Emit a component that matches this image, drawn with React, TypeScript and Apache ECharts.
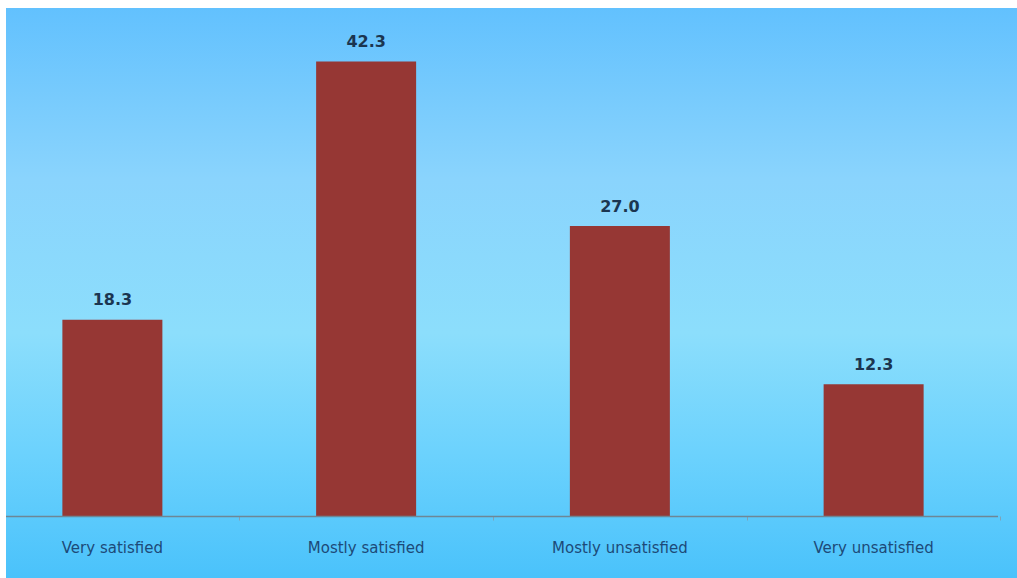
import React, { useEffect, useRef } from "react";
import * as echarts from "echarts";

// Satisfaction survey results (percent of respondents)
const categories: string[] = [
  "Very satisfied",
  "Mostly satisfied",
  "Mostly unsatisfied",
  "Very unsatisfied",
];
const shares: number[] = [18.3, 42.3, 27.0, 12.3];

// Canvas extends 22px to the left of the painted panel so the first
// category band can start slightly outside the visible area.
const OFFSET = 22;
const W = 1033;
const H = 570;
const PANEL_W = 1011;
const AXIS_Y = 508.5;

export default function App() {
  const ref = useRef<HTMLDivElement>(null);

  useEffect(() => {
    if (!ref.current) return;
    const chart = echarts.init(ref.current, undefined, { renderer: "svg" });
    chart.setOption({
      animation: false,
      graphic: [
        {
          type: "rect",
          z: -10,
          silent: true,
          shape: { x: OFFSET, y: 0, width: PANEL_W, height: H },
          style: {
            fill: new echarts.graphic.LinearGradient(0, 0, 0, 1, [
              { offset: 0, color: "#62c1fe" },
              { offset: 0.16, color: "#78cbfd" },
              { offset: 0.3, color: "#8ad4fd" },
              { offset: 0.57, color: "#8cdefc" },
              { offset: 0.78, color: "#6cd2fd" },
              { offset: 1, color: "#4ac2fb" },
            ]),
          },
        },
        {
          type: "line",
          z: 10,
          silent: true,
          shape: { x1: OFFSET, y1: AXIS_Y, x2: OFFSET + 992, y2: AXIS_Y },
          style: { stroke: "#6d8796", lineWidth: 1.5 },
        },
      ],
      grid: { left: 1.5, width: 1015, top: 24.5, bottom: H - AXIS_Y, containLabel: false },
      xAxis: {
        type: "category",
        data: categories,
        boundaryGap: true,
        axisLine: { show: false },
        axisTick: { show: true, length: 4, lineStyle: { color: "#7fa3b8" } },
        axisLabel: {
          margin: 24,
          fontFamily: "'DejaVu Sans', sans-serif",
          fontSize: 15,
          color: "#1d4a78",
        },
      },
      yAxis: {
        type: "value",
        min: 0,
        max: 45,
        show: false,
        splitLine: { show: false },
      },
      series: [
        {
          type: "bar",
          data: shares,
          barWidth: 100,
          itemStyle: { color: "#963734" },
          label: {
            show: true,
            position: "top",
            distance: 12,
            formatter: (p: any) => Number(p.value).toFixed(1),
            fontFamily: "'DejaVu Sans', sans-serif",
            fontWeight: "bold",
            fontSize: 16,
            color: "#1b3550",
          },
        },
      ],
    });
    return () => chart.dispose();
  }, []);

  return (
    <div
      ref={ref}
      style={{ position: "absolute", left: 6 - OFFSET, top: 8, width: W, height: H }}
    />
  );
}
